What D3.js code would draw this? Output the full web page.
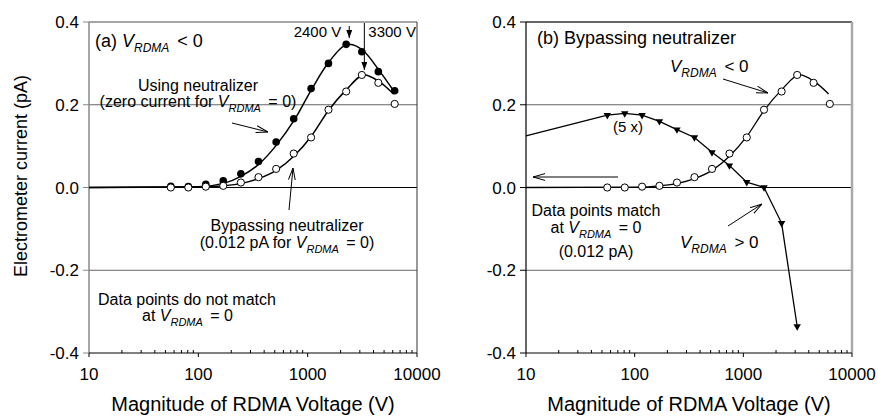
<!DOCTYPE html>
<html>
<head>
<meta charset="utf-8">
<script src="https://cdn.jsdelivr.net/npm/d3@7"></script>
<style>
  body { margin: 0; background: #fff; }
  text { font-family: "Liberation Sans", Arial, sans-serif; fill: #000; }
</style>
</head>
<body>
<svg id="chart" width="878" height="419"></svg>
<script>
// values
const voltages = [56, 81, 117, 169, 245, 355, 515, 745, 1075, 1550, 2250, 3130, 4430, 6250];
const neutralizerCurrent = [0.003, 0.002, 0.008, 0.016, 0.033, 0.063, 0.110, 0.166, 0.239, 0.300, 0.346, 0.328, 0.280, 0.234];
const bypassCurrent = [0.000, 0.000, 0.002, 0.004, 0.012, 0.025, 0.045, 0.082, 0.121, 0.188, 0.232, 0.272, 0.253, 0.202];

// V_RDMA > 0 branch, shown 5x
const positiveVoltages = [56, 81, 117, 169, 245, 355, 515, 745, 1075, 1550, 2250, 3130];
const positiveCurrent = [0.175, 0.179, 0.175, 0.160, 0.140, 0.121, 0.085, 0.053, 0.013, 0.000, -0.086, -0.336];
const positiveLeadV = 10;
const positiveLeadI = 0.125;

// fitted curves
const neutralizerFitV = [10, 100, 170, 250, 360, 520, 750, 1080, 1550, 2400, 3300, 4500, 6250];
const neutralizerFitI = [0, 0.002, 0.010, 0.028, 0.057, 0.103, 0.162, 0.236, 0.302, 0.346, 0.328, 0.283, 0.230];
const bypassFitV = [10, 100, 170, 250, 360, 520, 750, 1080, 1550, 2250, 3300, 4450, 6100];
const bypassFitI = [0, 0.001, 0.004, 0.010, 0.022, 0.042, 0.076, 0.124, 0.186, 0.236, 0.272, 0.257, 0.226];

const peakVoltages = [2400, 3300];
const peakLabels = ["2400 V", "3300 V"];

const xTicks = [10, 100, 1000, 10000];
const yTicks = [-0.4, -0.2, 0, 0.2, 0.4];
const gridLines = [-0.2, 0.2];

const svg = d3.select("#chart");
svg.append("rect").attr("width", 878).attr("height", 419).attr("fill", "#fff");

const defs = svg.append("defs");
defs.append("marker")
    .attr("id", "open")
    .attr("viewBox", "0 0 12 8")
    .attr("refX", 12).attr("refY", 4)
    .attr("markerWidth", 12).attr("markerHeight", 8)
    .attr("markerUnits", "userSpaceOnUse")
    .attr("orient", "auto")
    .append("path")
    .attr("d", "M0,0.6 L12,4 L0,7.4")
    .attr("fill", "none").attr("stroke", "#000").attr("stroke-width", 1);
defs.append("marker")
    .attr("id", "solid")
    .attr("viewBox", "0 0 8 6")
    .attr("refX", 8).attr("refY", 3)
    .attr("markerWidth", 8).attr("markerHeight", 6)
    .attr("markerUnits", "userSpaceOnUse")
    .attr("orient", "auto")
    .append("path")
    .attr("d", "M0,0 L8,3 L0,6 Z")
    .attr("fill", "#000");

const y = d3.scaleLinear().domain([-0.4, 0.4]).range([353, 22]);

function rich(g, x, yy, parts, anchor, size) {
    size = size || 16;
    const sub = Math.round(size * 0.68);
    const t = g.append("text").attr("x", x).attr("y", yy)
        .attr("text-anchor", anchor || "start")
        .style("font-size", size + "px");
    let shift = 0;
    parts.forEach(p => {
        const s = t.append("tspan").text(p.t);
        if (p.sub) {
            s.style("font-size", sub + "px").style("font-style", "italic").attr("dy", 5 - shift);
            shift = 5;
        } else {
            if (shift) { s.attr("dy", -shift); shift = 0; }
            if (p.it) s.style("font-style", "italic");
        }
        if (p.dx) s.attr("dx", p.dx);
    });
    return t;
}
const vr = (rest) => [{t: "V", it: true}, {t: "RDMA", sub: true}, {t: rest, dx: 3}];

function arrow(g, x1, y1, x2, y2, head) {
    g.append("line")
        .attr("x1", x1).attr("y1", y1).attr("x2", x2).attr("y2", y2)
        .attr("stroke", "#000").attr("stroke-width", 1)
        .attr("marker-end", `url(#${head || "open"})`);
}

function drawPanel(x0, x1, frame) {
    const g = svg.append("g");
    const x = d3.scaleLog().domain([10, 10000]).range([x0, x1]);

    // horizontal reference lines
    g.selectAll(".grid").data(gridLines).enter().append("line")
        .attr("x1", x0).attr("x2", x1)
        .attr("y1", d => y(d)).attr("y2", d => y(d))
        .attr("stroke", "#666").attr("stroke-width", 1);
    g.append("line").attr("x1", x0).attr("x2", x1)
        .attr("y1", y(0)).attr("y2", y(0))
        .attr("stroke", "#000").attr("stroke-width", 1);

    // frame
    g.append("line").attr("x1", x0).attr("x2", x1).attr("y1", y(0.4)).attr("y2", y(0.4))
        .attr("stroke", frame.top).attr("stroke-width", frame.topW);
    g.append("line").attr("x1", x1).attr("x2", x1).attr("y1", y(0.4)).attr("y2", y(-0.4))
        .attr("stroke", frame.right).attr("stroke-width", frame.rightW);
    g.append("line").attr("x1", x0).attr("x2", x0).attr("y1", y(0.4)).attr("y2", y(-0.4))
        .attr("stroke", frame.left).attr("stroke-width", frame.leftW);
    g.append("line").attr("x1", x0).attr("x2", x1).attr("y1", y(-0.4)).attr("y2", y(-0.4))
        .attr("stroke", "#000").attr("stroke-width", 1);

    // y ticks
    g.selectAll(".ytick").data(yTicks).enter().append("line")
        .attr("x1", x0 - 6).attr("x2", x0)
        .attr("y1", d => y(d)).attr("y2", d => y(d))
        .attr("stroke", frame.left).attr("stroke-width", 1);
    g.selectAll(".ylab").data(yTicks).enter().append("text")
        .attr("x", x0 - 10).attr("y", d => y(d) + 6)
        .attr("text-anchor", "end")
        .style("font-size", "17px")
        .text(d => d.toFixed(1));

    // x ticks: majors outward, minors inward
    const minors = x.ticks().filter(v => !xTicks.includes(v));
    g.selectAll(".xminor").data(minors).enter().append("line")
        .attr("x1", d => x(d)).attr("x2", d => x(d))
        .attr("y1", y(-0.4) - 3).attr("y2", y(-0.4))
        .attr("stroke", "#000").attr("stroke-width", 1);
    g.selectAll(".xmajor").data(xTicks).enter().append("line")
        .attr("x1", d => x(d)).attr("x2", d => x(d))
        .attr("y1", y(-0.4)).attr("y2", y(-0.4) + 4)
        .attr("stroke", "#000").attr("stroke-width", 1);
    g.selectAll(".xlab").data(xTicks).enter().append("text")
        .attr("x", d => x(d)).attr("y", 380)
        .attr("text-anchor", "middle")
        .style("font-size", "17px")
        .text(d => d);

    g.append("text")
        .attr("x", (x0 + x1) / 2).attr("y", 411)
        .attr("text-anchor", "middle")
        .style("font-size", "20px")
        .text("Magnitude of RDMA Voltage (V)");

    return {g, x};
}

const curve = (x, xs, ys) => d3.line()
    .x((d, i) => x(xs[i]))
    .y((d, i) => y(ys[i]))
    .curve(d3.curveMonotoneX)(xs);

function openCircles(g, x, xs, ys) {
    g.selectAll(null).data(xs).enter().append("circle")
        .attr("cx", d => x(d)).attr("cy", (d, i) => y(ys[i]))
        .attr("r", 3.6)
        .attr("fill", "#fff").attr("stroke", "#000").attr("stroke-width", 1);
}

// ---- panel (a)
const A = drawPanel(89, 417, {left: "#888", leftW: 1.5, top: "#888", topW: 1.5, right: "#333", rightW: 1});
A.g.append("path").attr("d", curve(A.x, neutralizerFitV, neutralizerFitI))
    .attr("fill", "none").attr("stroke", "#000").attr("stroke-width", 1.5);
A.g.append("path").attr("d", curve(A.x, bypassFitV, bypassFitI))
    .attr("fill", "none").attr("stroke", "#000").attr("stroke-width", 1.5);
A.g.selectAll(".filled").data(voltages).enter().append("circle")
    .attr("cx", d => A.x(d)).attr("cy", (d, i) => y(neutralizerCurrent[i]))
    .attr("r", 3.8).attr("fill", "#000");
openCircles(A.g, A.x, voltages, bypassCurrent);

// peak markers
A.g.append("text").attr("x", A.x(peakVoltages[0]) - 8).attr("y", 37)
    .attr("text-anchor", "end").style("font-size", "15px").text(peakLabels[0]);
arrow(A.g, A.x(peakVoltages[0]), 26, A.x(peakVoltages[0]), 38, "solid");
A.g.append("text").attr("x", A.x(peakVoltages[1]) + 4).attr("y", 37)
    .style("font-size", "15px").text(peakLabels[1]);
arrow(A.g, A.x(peakVoltages[1]), 23, A.x(peakVoltages[1]), 70, "solid");

rich(A.g, 95, 47, [{t: "(a) "}].concat(vr("  < 0")), "start", 18);
rich(A.g, 198, 91, [{t: "Using neutralizer"}], "middle");
rich(A.g, 198, 107, [{t: "(zero current for "}].concat(vr(" = 0)")), "middle");
arrow(A.g, 232, 123, 268, 132);
arrow(A.g, 289, 210, 293, 168);
rich(A.g, 287, 231, [{t: "Bypassing neutralizer"}], "middle");
rich(A.g, 287, 248, [{t: "(0.012 pA for "}].concat(vr(" = 0)")), "middle");
rich(A.g, 98, 305, [{t: "Data points do not match"}]);
rich(A.g, 142, 321, [{t: "at "}].concat(vr(" = 0")));

// ---- panel (b)
const B = drawPanel(526, 852, {left: "#000", leftW: 1.2, top: "#333", topW: 1.5, right: "#aaa", rightW: 2.5});
B.g.append("path").attr("d", curve(B.x, bypassFitV, bypassFitI))
    .attr("fill", "none").attr("stroke", "#000").attr("stroke-width", 1.3);
openCircles(B.g, B.x, voltages, bypassCurrent);

const posX = [positiveLeadV].concat(positiveVoltages);
const posY = [positiveLeadI].concat(positiveCurrent);
B.g.append("path")
    .attr("d", d3.line().x((d, i) => B.x(posX[i])).y((d, i) => y(posY[i]))(posX))
    .attr("fill", "none").attr("stroke", "#000").attr("stroke-width", 1.3);
B.g.selectAll(".tri").data(positiveVoltages).enter().append("path")
    .attr("d", d3.symbol().type(d3.symbolTriangle).size(24))
    .attr("transform", (d, i) => `translate(${B.x(d)},${y(positiveCurrent[i])}) rotate(180)`)
    .attr("fill", "#000");

rich(B.g, 537, 44, [{t: "(b) Bypassing neutralizer"}], "start", 18);
rich(B.g, 670, 72, vr("  < 0"), "start", 17);
arrow(B.g, 723, 79, 768, 93);
rich(B.g, 613, 132, [{t: "(5 x)"}], "start", 15);
arrow(B.g, 618, 177, 533, 177);
rich(B.g, 596, 216, [{t: "Data points match"}], "middle");
rich(B.g, 596, 233, [{t: "at "}].concat(vr(" = 0")), "middle");
rich(B.g, 596, 257, [{t: "(0.012 pA)"}], "middle");
arrow(B.g, 728, 226, 762, 204);
rich(B.g, 680, 248, vr("  > 0"), "start", 17);

// shared y title
svg.append("text")
    .attr("transform", "translate(27,176) rotate(-90)")
    .attr("text-anchor", "middle")
    .style("font-size", "18px")
    .text("Electrometer current (pA)");
</script>
</body>
</html>
